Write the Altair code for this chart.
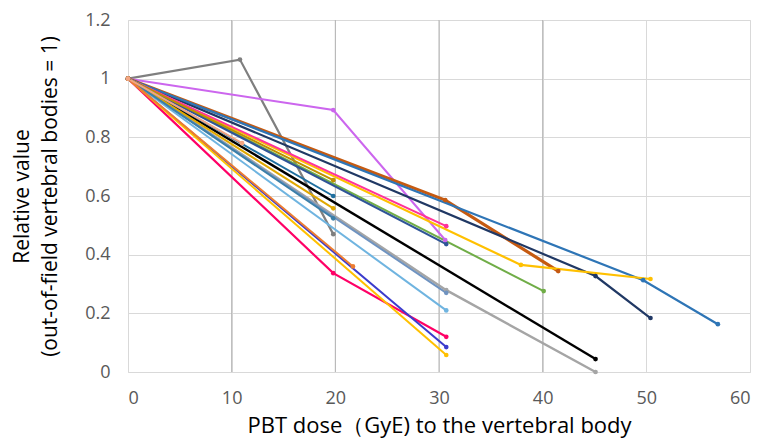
import altair as alt
import pandas as pd

# Each series: name, colour, x values (dose), y values (relative value)
series_names = ["A", "B", "C", "D", "E", "F", "G", "H", "I", "J", "K",
                "L", "M", "N", "O", "P", "Q", "R", "S", "T", "U", "V"]
series_colors = ["#7f7f7f", "#cc66ee", "#c55a11", "#203864", "#2e75b6", "#ffc000",
                 "#70ad47", "#000000", "#a5a5a5", "#ff3399", "#2f5597",
                 "#6f93c0", "#6fb4e0", "#ff0066", "#3b3bcc", "#ffc000",
                 "#bf9000", "#1f6f9f", "#e0a800", "#3b7fa8", "#ed7d31", "#f4a582"]
series_x = [
    [0, 10.8, 19.8],
    [0, 19.8, 30.6],
    [0, 30.6, 41.5],
    [0, 45.1, 50.4],
    [0, 49.7, 56.9],
    [0, 37.9, 50.4],
    [0, 40.1],
    [0, 45.1],
    [0, 30.7, 45.1],
    [0, 30.7],
    [0, 30.7],
    [0, 30.7],
    [0, 30.7],
    [0, 19.8, 30.7],
    [0, 30.7],
    [0, 30.7],
    [0, 19.8],
    [0, 19.8],
    [0, 19.8],
    [0, 19.8],
    [0, 21.7],
    [0, 11.0],
]
series_y = [
    [1, 1.065, 0.47],
    [1, 0.893, 0.45],
    [1, 0.586, 0.344],
    [1, 0.327, 0.184],
    [1, 0.313, 0.163],
    [1, 0.365, 0.317],
    [1, 0.276],
    [1, 0.044],
    [1, 0.279, 0.0],
    [1, 0.497],
    [1, 0.436],
    [1, 0.27],
    [1, 0.21],
    [1, 0.337, 0.12],
    [1, 0.085],
    [1, 0.058],
    [1, 0.654],
    [1, 0.60],
    [1, 0.558],
    [1, 0.524],
    [1, 0.36],
    [1, 0.78],
]
series_width = [2.2, 2, 3.2, 2.2, 2.2, 2.2, 2, 2.4, 2.4, 2, 2.2,
                2, 2, 2.2, 2, 2, 2, 2, 2, 2, 2, 2]

x_ticks = [0, 10, 20, 30, 40, 50, 60]
y_ticks = [0, 0.2, 0.4, 0.6, 0.8, 1.0, 1.2]
dark_grid = [10, 20, 30, 40]

rows = []
for i, (n, xs, ys) in enumerate(zip(series_names, series_x, series_y)):
    for j, (xv, yv) in enumerate(zip(xs, ys)):
        rows.append({"series": n, "x": xv, "y": yv, "ord": j, "w": series_width[i], "k": i})
df = pd.DataFrame(rows)

font = "Open Sans"

xscale = alt.Scale(domain=[0, 60], nice=False)
yscale = alt.Scale(domain=[0, 1.2], nice=False)

grid = alt.Chart(pd.DataFrame({"g": dark_grid})).mark_rule(color="#b4b4b4", strokeWidth=1).encode(
    x=alt.X("g:Q", scale=xscale)
)

lines = alt.Chart(df).mark_line(
    point=alt.OverlayMarkDef(filled=True, size=22)
).encode(
    x=alt.X("x:Q", scale=xscale,
            axis=alt.Axis(values=x_ticks, title="PBT dose（GyE) to the vertebral body",
                          grid=True, gridColor="#d9d9d9", domain=False, ticks=False,
                          labelFontSize=18, labelColor="#595959", labelPadding=17,
                          titleFontSize=22, titleFontWeight="normal", titleColor="#000000",
                          titlePadding=8, labelFont=font, titleFont=font)),
    y=alt.Y("y:Q", scale=yscale,
            axis=alt.Axis(values=y_ticks, format="~g",
                          title=["Relative value", "(out-of-field vertebral bodies = 1)"],
                          grid=True, gridColor="#d9d9d9", domain=False, ticks=False,
                          labelFontSize=18, labelColor="#595959", labelPadding=18,
                          titleFontSize=21, titleFontWeight="normal", titleColor="#000000",
                          titleLineHeight=28,
                          titlePadding=24, labelFont=font, titleFont=font)),
    color=alt.Color("series:N", scale=alt.Scale(domain=series_names, range=series_colors), legend=None),
    strokeWidth=alt.StrokeWidth("w:Q", scale=None),
    order=alt.Order("ord:Q"),
)

chart = alt.layer(grid, lines).properties(
    width=622, height=352,
    autosize=alt.AutoSizeParams(type="none"),
    padding={"left": 120, "top": 12, "right": 5, "bottom": 66},
).configure_view(stroke=None).configure(background="white")

chart.save("out.html", embed_options={"renderer": "svg", "actions": False})
